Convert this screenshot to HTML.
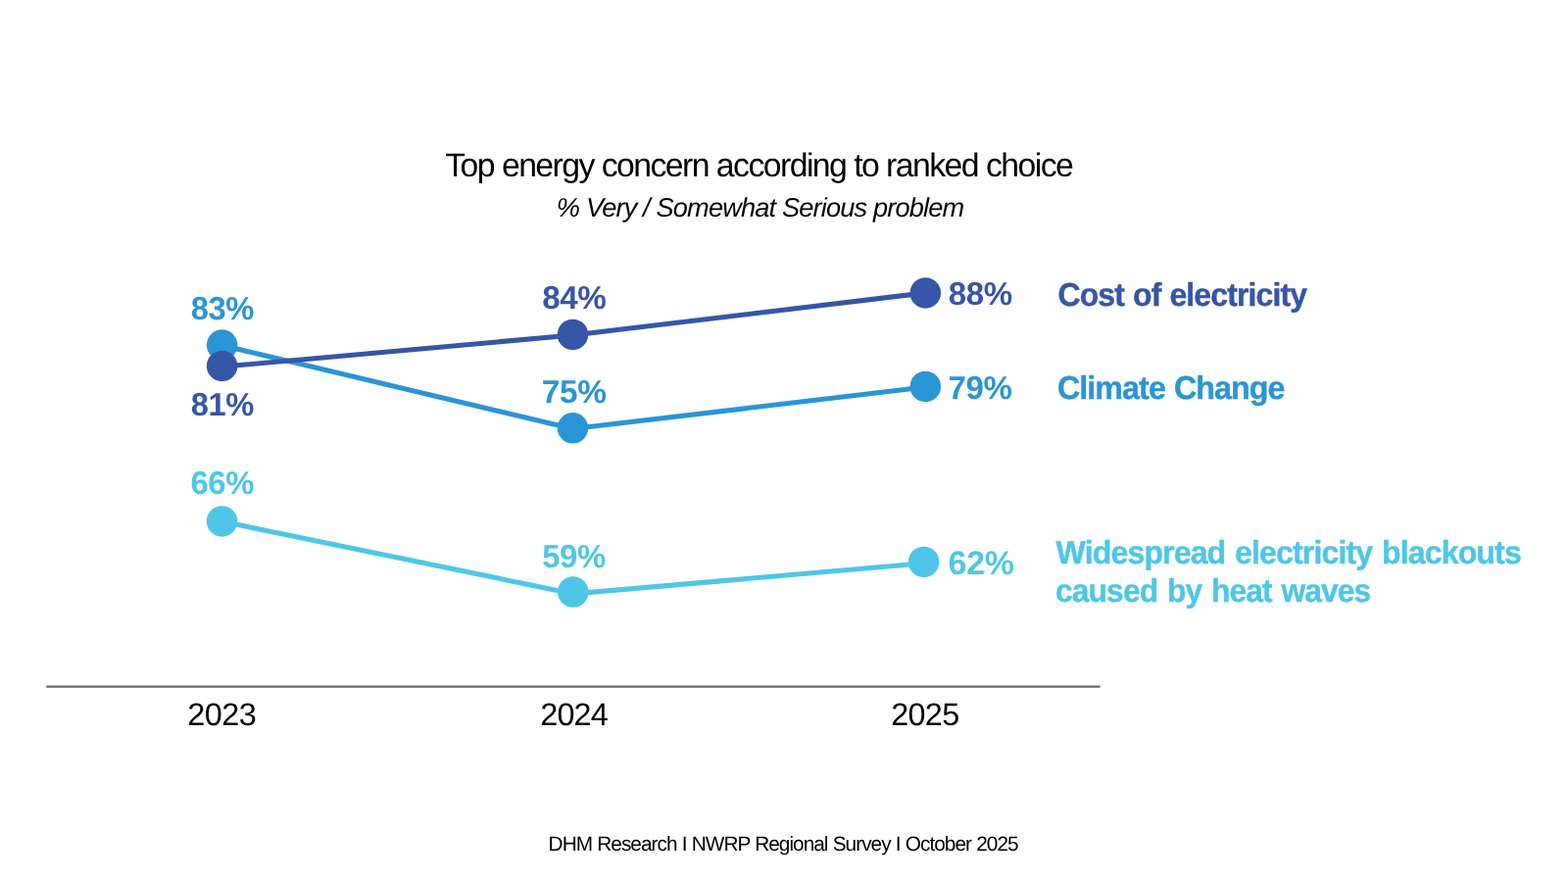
<!DOCTYPE html>
<html lang="en">
<head>
<meta charset="utf-8">
<title>Top energy concern according to ranked choice</title>
<style>
  html, body { margin:0; padding:0; background:#ffffff; }
  body { width:1600px; height:900px; overflow:hidden; position:relative;
         font-family:"Liberation Sans", Arial, Helvetica, sans-serif; }
  svg { position:absolute; left:0; top:0; display:block; }
  text { font-family:"Liberation Sans", Arial, Helvetica, sans-serif; white-space:pre; text-rendering:geometricPrecision; }
  .title { font-size:33.8px; fill:#000; }
  .sub { font-size:27.2px; font-style:italic; fill:#000; }
  .val { font-size:33.2px; font-weight:bold; }
  .leg { font-size:33.2px; font-weight:bold; stroke-width:0.45px; stroke-linejoin:round; paint-order:stroke fill; }
  .yr { font-size:32.4px; fill:#000; }
  .foot { font-size:20.8px; fill:#000; }
  .c1 { fill:#3656a6; } .c2 { fill:#2a95d5; } .c3 { fill:#4fc6e6; }
  .leg.c1 { stroke:#3656a6; } .leg.c2 { stroke:#2a95d5; } .leg.c3 { stroke:#4fc6e6; }
  .l1 { stroke:#3656a6; } .l2 { stroke:#2a95d5; } .l3 { stroke:#4fc6e6; }
  .ln { fill:none; stroke-width:5.1; stroke-linejoin:round; stroke-linecap:round; }
</style>
</head>
<body>
<svg width="1600" height="900" viewBox="0 0 1600 900" role="img" aria-label="Line chart: top energy concern according to ranked choice">
  <rect width="1600" height="900" fill="#ffffff"/>
  <!-- heading -->
  <text class="title" x="454.25" y="180.00" style="letter-spacing:-1.560px">Top energy concern according to ranked choice</text>
  <text class="sub" x="567.85" y="221.00" style="letter-spacing:-0.844px">% Very / Somewhat Serious problem</text>
  <!-- axis -->
  <line x1="47.2" y1="700.66" x2="1122.6" y2="700.66" stroke="#696969" stroke-width="2.3"/>
  <!-- series lines -->
  <polyline class="ln l3" points="226.55,532.15 585.2,605.9 942.6,574.8"/>
  <polyline class="ln l2" points="226.6,352.4 584.45,437.5 944.3,395.05"/>
  <polyline class="ln l1" points="226.6,374.2 584.45,342.05 944.3,298.9"/>
  <!-- markers -->
  <circle class="c3" cx="226.55" cy="531.9" r="15.75"/>
  <circle class="c3" cx="584.8" cy="604" r="15.75"/>
  <circle class="c3" cx="942.6" cy="573.4" r="15.75"/>
  <circle class="c2" cx="226.6" cy="352.05" r="15.75"/>
  <circle class="c2" cx="584.45" cy="436.85" r="15.75"/>
  <circle class="c2" cx="944.3" cy="394.45" r="15.75"/>
  <circle class="c1" cx="226.6" cy="373.45" r="15.75"/>
  <circle class="c1" cx="584.45" cy="341.4" r="15.75"/>
  <circle class="c1" cx="944.3" cy="298.95" r="15.75"/>
  <!-- data labels -->
  <text class="val c2" transform="translate(194.75 326.00) scale(0.9843 1)" style="letter-spacing:-0.400px">83%</text>
  <text class="val c1" transform="translate(194.75 424.00) scale(0.9843 1)" style="letter-spacing:-0.400px">81%</text>
  <text class="val c1" transform="translate(553.25 315.00) scale(1.0000 1)" style="letter-spacing:-0.400px">84%</text>
  <text class="val c2" transform="translate(552.75 411.00) scale(1.0079 1)" style="letter-spacing:-0.400px">75%</text>
  <text class="val c3" transform="translate(194.50 504.00) scale(0.9882 1)" style="letter-spacing:-0.400px">66%</text>
  <text class="val c3" transform="translate(553.25 579.00) scale(0.9882 1)" style="letter-spacing:-0.400px">59%</text>
  <text class="val c1" transform="translate(967.85 311.00) scale(0.9969 1)" style="letter-spacing:-0.400px">88%</text>
  <text class="val c2" transform="translate(967.50 407.00) scale(0.9960 1)" style="letter-spacing:-0.400px">79%</text>
  <text class="val c3" transform="translate(967.50 586.00) scale(0.9962 1)" style="font-size:34px;letter-spacing:-0.200px">62%</text>
  <!-- series labels -->
  <text class="leg c1" transform="translate(1079.50 312.00) scale(0.9631 1)" style="word-spacing:1px;letter-spacing:-0.900px">Cost of electricity</text>
  <text class="leg c2" transform="translate(1078.90 407.00) scale(0.9685 1)" style="word-spacing:1px;letter-spacing:-0.900px">Climate Change</text>
  <text class="leg c3" transform="translate(1077.60 575.00) scale(0.9660 1)" style="word-spacing:1.8px;letter-spacing:-0.900px">Widespread electricity blackouts</text>
  <text class="leg c3" transform="translate(1077.00 614.00) scale(0.9564 1)" style="word-spacing:1.8px;letter-spacing:-0.900px">caused by heat waves</text>
  <!-- x axis labels -->
  <text class="yr" x="191.20" y="740.00" style="letter-spacing:-0.500px">2023</text>
  <text class="yr" x="551.20" y="740.00" style="letter-spacing:-0.817px">2024</text>
  <text class="yr" x="909.25" y="740.00" style="letter-spacing:-0.717px">2025</text>
  <!-- source -->
  <text class="foot" x="559.60" y="868.00" style="word-spacing:0.4px;letter-spacing:-0.972px">DHM Research I NWRP Regional Survey I October 2025</text>
</svg>
</body>
</html>
